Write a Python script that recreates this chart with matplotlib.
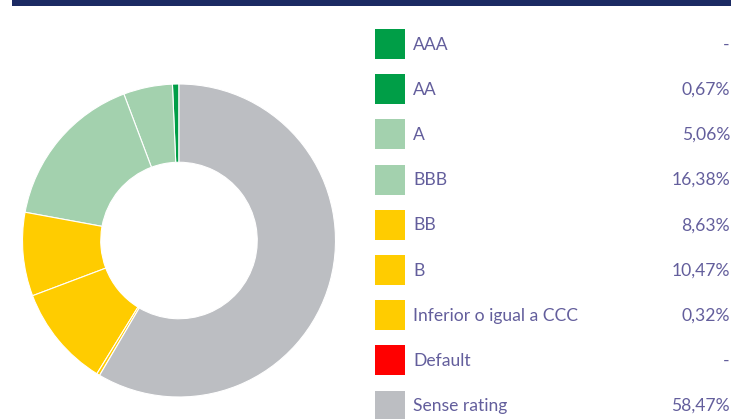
import matplotlib
matplotlib.use("Agg")
import matplotlib.pyplot as plt
from matplotlib.patches import Rectangle

categories = ["AAA", "AA", "A", "BBB", "BB", "B", "Inferior o igual a CCC", "Default", "Sense rating"]
values = [0.0, 0.67, 5.06, 16.38, 8.63, 10.47, 0.32, 0.0, 58.47]
value_labels = ["-", "0,67%", "5,06%", "16,38%", "8,63%", "10,47%", "0,32%", "-", "58,47%"]
colors = ["#009E47", "#009E47", "#A3D1AE", "#A3D1AE", "#FFCC00", "#FFCC00", "#FFCC00", "#FF0000", "#BCBEC2"]

W, H = 752, 419
fig = plt.figure(figsize=(W / 100, H / 100), dpi=100)
fig.patch.set_facecolor("white")

text_color = "#635E9C"
font = ["Lato", "DejaVu Sans"]

# overlay axes in pixel coordinates
ov = fig.add_axes([0, 0, 1, 1])
ov.set_xlim(0, W)
ov.set_ylim(H, 0)
ov.axis("off")

# top bar
ov.add_patch(Rectangle((12, 0.5), 719, 5.5, color="#1B2A63", lw=0))

# donut
cx, cy, R = 179, 240.5, 156.5
ax = fig.add_axes([(cx - R) / W, (H - cy - R) / H, 2 * R / W, 2 * R / H])
nz = [(v, c) for v, c in zip(values, colors) if v > 0]
ax.pie([v for v, c in nz], colors=[c for v, c in nz], startangle=90, counterclock=True,
       radius=1, wedgeprops=dict(width=0.5, edgecolor="white", linewidth=0.8))
ax.set_xlim(-1, 1)
ax.set_ylim(-1, 1)
ax.set_aspect("equal")
ax.axis("off")

# legend table
y0, dy = 44, 45.2
for i, (cat, lab, col) in enumerate(zip(categories, value_labels, colors)):
    y = y0 + i * dy
    ov.add_patch(Rectangle((375, y - 15), 30, 30, color=col, lw=0))
    ov.text(413, y + 0.5, cat, ha="left", va="center", fontsize=12.6, color=text_color, family=font)
    ov.text(730, y + 0.5, lab, ha="right", va="center", fontsize=12.6, color=text_color, family=font)

fig.savefig("out.png", dpi=100)
